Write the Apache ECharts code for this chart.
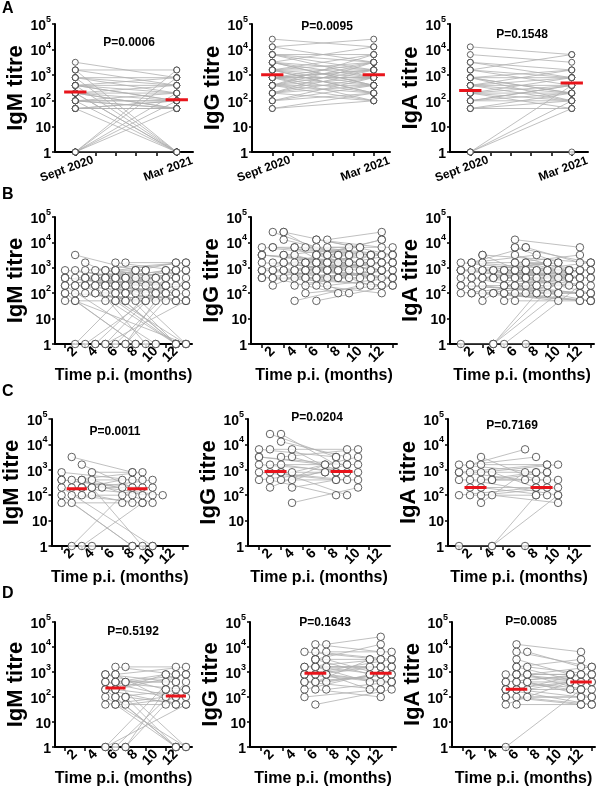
<!DOCTYPE html>
<html><head><meta charset="utf-8">
<script src="https://cdn.jsdelivr.net/npm/echarts@6/dist/echarts.min.js"></script>
<style>html,body{margin:0;padding:0;background:#fff}#c{width:597px;height:788px}</style>
</head><body><div id="c"></div>
<script>
// ---------- DATA ----------
// Panel A: paired titres Sept 2020 -> Mar 2021
const aLabels = ['Sept 2020', 'Mar 2021'];
const aPos = [1, 6];
const aIgMSept = [3200,1600,1600,800,800,800,400,400,400,400,200,200,200,200,200,100,100,100,100,100,50,50,50,50,1,1,1,1,1,1,400,200,800,100,50,1600,400,200];
const aIgMMar  = [800,1600,400,800,400,1,400,200,100,1,200,100,50,1,400,100,50,1,200,100,50,100,1,50,1600,800,200,100,50,1,800,1,200,50,100,1,100,50];
const aIgGSept = [25600,12800,12800,6400,6400,6400,3200,3200,3200,3200,1600,1600,1600,1600,1600,800,800,800,800,800,800,400,400,400,400,400,200,200,200,200,100,100,100,50,50,1600,800,3200,400,6400,200,800,1600,400];
const aIgGMar  = [12800,3200,25600,6400,1600,800,12800,1600,800,400,6400,3200,800,400,200,3200,1600,800,400,200,100,1600,800,400,200,100,3200,800,400,100,800,400,200,200,100,1600,1600,400,6400,3200,1600,800,200,3200];
const aIgASept = [12800,6400,3200,3200,1600,1600,1600,800,800,800,800,400,400,400,400,200,200,200,200,100,100,100,50,50,50,1,1,1,1,200,400,800,100];
const aIgAMar  = [6400,3200,1600,800,6400,800,400,1600,800,200,100,800,400,200,100,400,200,100,50,400,200,100,200,100,50,400,100,50,1,800,1600,200,400];
const aMedian1 = [220, 1050, 250];
const aMedian2 = [110, 1050, 500];
const aP = ['P=0.0006', 'P=0.0095', 'P=0.1548'];

// Panel C: early first sample (months p.i.)
const cTime1 = [1,1,1,1,1,2,2,2,2,2,2,3,3,3,3,3,3,3,4,4,4,4,4,4,5,1];
const cTime2 = [8,9,10,8,7,8,9,10,9,8,7,8,9,10,8,9,10,7,8,9,10,8,10,9,11,7];
const cIgM1 = [800,400,200,100,50,3200,400,200,100,50,1,1600,400,200,100,1,400,200,800,400,200,100,1,200,200,400];
const cIgM2 = [400,200,1,1,50,800,800,100,50,1,100,200,400,200,100,50,50,400,800,100,400,50,1,1,100,200];
const cIgG1 = [6400,3200,1600,800,400,25600,6400,1600,800,400,200,25600,12800,3200,1600,800,400,800,6400,3200,800,200,50,400,null,3200];
const cIgG2 = [3200,1600,800,400,800,3200,6400,1600,400,100,1600,1600,3200,6400,800,100,400,800,800,800,3200,400,200,1600,null,1600];
const cIgA1 = [1600,800,400,100,1,1600,800,400,200,100,1600,3200,1600,800,400,200,100,50,800,400,100,1,1,400,null,800];
const cIgA2 = [800,1600,400,200,1,3200,800,100,200,100,6400,400,1600,1600,800,100,200,800,200,800,50,100,100,400,null,400];
const cMedianTime = [2.5, 8.5];
const cMedian1 = [180, 850, 200];
const cMedian2 = [180, 850, 200];
const cP = ['P=0.0011', 'P=0.0204', 'P=0.7169'];

// Panel D: later first sample
const dTime1 = [5,5,5,5,5,5,5,6,6,6,6,6,6,6,6,6,6,7,7,7,7,7,7,7,5,6,6,5,6,7,5,6];
const dTime2 = [12,13,12,13,11,12,13,12,13,11,12,13,11,12,13,12,11,12,13,12,13,11,12,13,12,12,13,11,12,13,12,11];
const dIgM1 = [800,400,200,100,50,1,1,1600,800,400,200,100,50,1,400,800,200,1600,400,100,50,1,400,1,400,100,200,800,50,100,200,400];
const dIgM2 = [400,200,1,1,100,800,50,800,1600,400,100,200,50,200,1,50,800,1600,800,1,100,200,400,400,100,1,800,200,1,50,50,800];
const dIgG1 = [6400,1600,800,400,200,100,800,12800,6400,3200,1600,800,400,200,50,3200,1600,12800,6400,3200,1600,800,400,200,1600,800,400,800,1600,800,400,3200];
const dIgG2 = [3200,1600,400,800,800,200,3200,6400,3200,800,1600,400,3200,100,200,12800,400,25600,6400,800,1600,200,800,400,3200,1600,800,1600,800,400,200,3200];
const dIgA1 = [800,400,200,100,50,1,200,12800,6400,3200,1600,800,400,200,100,50,800,6400,1600,800,400,200,100,800,400,200,400,200,1600,400,100,800];
const dIgA2 = [400,800,200,100,400,200,50,6400,1600,800,3200,400,200,100,50,50,800,1600,800,200,400,400,100,1600,800,800,200,400,400,100,50,800];
const dMedianTime = [6, 12];
const dMedian1 = [230, 900, 205];
const dMedian2 = [110, 900, 400];
const dP = ['P=0.5192', 'P=0.1643', 'P=0.0085'];

// Extra pairs present only in panel B (B = C + D + these)
const eTime1 = [1,2,3,4,1,2,3,4,5,6,7,2,3,1,4];
const eTime2 = [11,12,13,12,13,11,12,13,9,10,10,13,11,12,11];
const eIgM1 = [400,200,800,400,100,800,200,100,400,800,200,50,400,200,1];
const eIgM2 = [200,400,1600,800,50,200,1,200,800,400,100,1,200,1600,400];
const eIgG1 = [3200,800,25600,1600,400,6400,3200,800,1600,12800,3200,400,1600,800,6400];
const eIgG2 = [1600,1600,3200,800,400,3200,800,1600,3200,6400,1600,200,400,12800,3200];
const eIgA1 = [800,400,3200,800,200,1600,400,100,800,6400,1600,100,800,200,1];
const eIgA2 = [400,200,1600,400,100,800,800,50,1600,1600,800,50,400,100,800];

const monthLabels = [2,4,6,8,10,12];
const monthTicks = [1,3,5,7,9,11,13];
const aTicks = [1,2,3,4,5,6];
const yNames = ['IgM titre', 'IgG titre', 'IgA titre'];

// ---------- BUILD ----------
const FONT = '"Liberation Sans", Arial, Helvetica, sans-serif';
const grids = [], xAxes = [], yAxes = [], series = [], graphics = [];

function pairsFrom(t1, v1, t2, v2) {
  const out = [];
  for (let i = 0; i < v1.length; i++) {
    if (v1[i] == null || v2[i] == null) continue;
    out.push([t1[i], v1[i], t2[i], v2[i]]);
  }
  return out;
}
function constPairs(x1, v1, x2, v2) {
  return pairsFrom(v1.map(() => x1), v1, v2.map(() => x2), v2);
}

function addPanel(rect, kind, yName, pairs, med, pText, pPos, sym) {
  const i = grids.length;
  grids.push({ left: rect[0], top: rect[1], width: rect[2], height: rect[3] });
  const isA = kind === 'A';
  xAxes.push({
    gridIndex: i, type: 'value', min: 0, max: rect[4],
    axisLine: { show: true, onZero: false, lineStyle: { color: '#000', width: 2 } },
    axisTick: { show: true, customValues: isA ? aTicks : monthTicks, length: 4, lineStyle: { color: '#000', width: 1.5 } },
    axisLabel: isA ? {
      customValues: aPos, rotate: 20, align: 'center', verticalAlign: 'middle', margin: 14,
      padding: [0, 18, 0, 0],
      formatter: v => aLabels[aPos.indexOf(Math.round(v))],
      fontFamily: FONT, fontWeight: 'bold', fontSize: 12, color: '#000'
    } : {
      customValues: monthLabels, rotate: 45, margin: 5,
      fontFamily: FONT, fontWeight: 'bold', fontSize: 14, color: '#000'
    },
    splitLine: { show: false },
    name: isA ? '' : 'Time p.i. (months)', nameLocation: 'middle', nameGap: 20,
    nameTextStyle: { fontFamily: FONT, fontWeight: 'bold', fontSize: 16, color: '#000' }
  });
  yAxes.push({
    gridIndex: i, type: 'log', logBase: 10, min: 1, max: 100000, splitNumber: 5,
    axisLine: { show: true, lineStyle: { color: '#000', width: 2 } },
    axisTick: { show: true, length: 3, lineStyle: { color: '#000', width: 1.5 } },
    splitLine: { show: false },
    axisLabel: {
      margin: 4,
      formatter: v => {
        const e = Math.round(Math.log10(v));
        if (e === 0) return '{b|1}';
        if (e === 1) return '{b|10}';
        return '{b|10}{s|' + e + '}';
      },
      rich: {
        b: { fontFamily: FONT, fontWeight: 'bold', fontSize: 14, color: '#000', lineHeight: 18, verticalAlign: 'bottom' },
        s: { fontFamily: FONT, fontWeight: 'bold', fontSize: 9, color: '#000', lineHeight: 18, verticalAlign: 'top' }
      }
    },
    name: yName, nameLocation: 'middle', nameGap: 27,
    nameTextStyle: { fontFamily: FONT, fontWeight: 'bold', fontSize: 22, color: '#000' }
  });
  pairs.forEach(p => {
    series.push({
      type: 'line', xAxisIndex: i, yAxisIndex: i, silent: true, animation: false,
      data: [[p[0], p[1]], [p[2], p[3]]], symbol: 'none', z: 2,
      lineStyle: { color: '#b0b0b0', width: 0.8 }
    });
  });
  const pts = [];
  pairs.forEach(p => { pts.push([p[0], p[1]]); pts.push([p[2], p[3]]); });
  series.push({
    type: 'scatter', xAxisIndex: i, yAxisIndex: i, silent: true, animation: false,
    data: pts, symbol: 'circle', symbolSize: sym, z: 3,
    itemStyle: { color: '#fff', borderColor: '#3c3c3c', borderWidth: 1 }
  });
  if (med) {
    med.forEach(m => {
      series.push({
        type: 'line', xAxisIndex: i, yAxisIndex: i, silent: true, animation: false,
        data: [[m[0] - m[2], m[1]], [m[0] + m[2], m[1]]], symbol: 'none', z: 4,
        lineStyle: { color: '#e8141b', width: 3 }
      });
    });
  }
  if (pText) {
    graphics.push({
      type: 'text', x: pPos[0], y: pPos[1], z: 10,
      style: { text: pText, font: 'bold 12px ' + FONT, fill: '#000', align: 'center', verticalAlign: 'middle' }
    });
  }
}

// Row A
const aRects = [[55, 24, 138, 128, 6.8], [252, 24, 138, 128, 6.8], [450, 24, 138, 128, 6.8]];
const aPairs = [
  constPairs(aPos[0], aIgMSept, aPos[1], aIgMMar),
  constPairs(aPos[0], aIgGSept, aPos[1], aIgGMar),
  constPairs(aPos[0], aIgASept, aPos[1], aIgAMar)
];
const aPPos = [[129, 43], [327, 27], [522, 35]];
for (let k = 0; k < 3; k++) {
  addPanel(aRects[k], 'A', yNames[k], aPairs[k],
    [[aPos[0], aMedian1[k], 0.55], [aPos[1], aMedian2[k], 0.55]], aP[k], aPPos[k], 6);
}

// Rows B, C, D
const cPairs = [pairsFrom(cTime1, cIgM1, cTime2, cIgM2), pairsFrom(cTime1, cIgG1, cTime2, cIgG2), pairsFrom(cTime1, cIgA1, cTime2, cIgA2)];
const dPairs = [pairsFrom(dTime1, dIgM1, dTime2, dIgM2), pairsFrom(dTime1, dIgG1, dTime2, dIgG2), pairsFrom(dTime1, dIgA1, dTime2, dIgA2)];
const ePairs = [pairsFrom(eTime1, eIgM1, eTime2, eIgM2), pairsFrom(eTime1, eIgG1, eTime2, eIgG2), pairsFrom(eTime1, eIgA1, eTime2, eIgA2)];

const bRects = [[55, 217, 137, 127, 13.6], [251, 217, 146, 127, 13.4], [450, 217, 144, 127, 13.3]];
const cRects = [[51, 419, 137, 127, 13.5], [248, 419, 142, 127, 12.9], [448, 419, 142, 127, 12.9]];
const dRects = [[55, 622, 137, 127, 13.6], [250, 622, 146, 127, 13.4], [452, 622, 143, 127, 13.3]];
const cPPos = [[115, 432], [317, 418], [512, 426]];
const dPPos = [[133, 632], [325, 623], [531, 622]];

for (let k = 0; k < 3; k++) {
  addPanel(bRects[k], 'T', yNames[k], cPairs[k].concat(dPairs[k], ePairs[k]), null, null, null, 7.5);
}
for (let k = 0; k < 3; k++) {
  addPanel(cRects[k], 'T', yNames[k], cPairs[k],
    [[cMedianTime[0], cMedian1[k], 1.0], [cMedianTime[1], cMedian2[k], 1.0]], cP[k], cPPos[k], 7.5);
}
for (let k = 0; k < 3; k++) {
  addPanel(dRects[k], 'T', yNames[k], dPairs[k],
    [[dMedianTime[0], dMedian1[k], 1.0], [dMedianTime[1], dMedian2[k], 1.0]], dP[k], dPPos[k], 7.5);
}

// Panel letters
[['A', 1], ['B', 187], ['C', 384], ['D', 586]].forEach(l => {
  graphics.push({ type: 'text', x: 2, y: l[1], z: 10,
    style: { text: l[0], font: 'bold 16px ' + FONT, fill: '#000', align: 'left', verticalAlign: 'top' } });
});

const chart = echarts.init(document.getElementById('c'), null, { renderer: 'canvas' });
chart.setOption({
  animation: false,
  backgroundColor: '#fff',
  grid: grids, xAxis: xAxes, yAxis: yAxes, series: series, graphic: graphics
});
</script>
</body></html>
